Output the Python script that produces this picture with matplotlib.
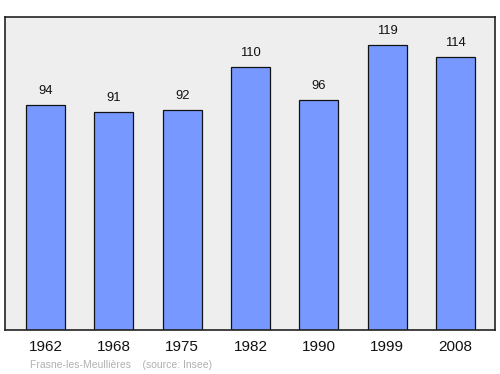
import matplotlib
matplotlib.use("Agg")
import matplotlib.pyplot as plt
from matplotlib import font_manager as fm

years = ["1962", "1968", "1975", "1982", "1990", "1999", "2008"]
values = [94, 91, 92, 110, 96, 119, 114]
footer = "Frasne-les-Meullières    (source: Insee)"

path = None
for f in fm.fontManager.ttflist:
    if f.name == 'Liberation Sans' and 'Narrow' not in f.fname and f.weight in (400, 'normal') and f.style == 'normal':
        path = f.fname
        break

def P(size):
    if path:
        return fm.FontProperties(fname=path, size=size)
    return fm.FontProperties(family='DejaVu Sans', size=size)

fig = plt.figure(figsize=(5, 3.74), dpi=100)
ax = fig.add_axes([5/500, 1-330/374, 490/500, 313/374])
ax.set_facecolor('#eeeeee')
ax.set_xlim(-0.593, 6.58)
ax.set_ylim(0, 130.7)

x = list(range(len(years)))
ax.bar(x, values, width=0.571, color='#7799ff', edgecolor='#111111', linewidth=0.9, zorder=2)
for xi, v in zip(x, values):
    ax.annotate(str(v), (xi, v), xytext=(0, 5.5), textcoords='offset points',
                ha='center', va='bottom', fontproperties=P(9.4), color='#111111')

ax.set_xticks(x)
ax.set_xticklabels(years, fontproperties=P(11), color='#111111')
ax.tick_params(axis='x', length=0, pad=7.5)
ax.set_yticks([])
for s in ax.spines.values():
    s.set_color('#222222')
    s.set_linewidth(1.2)

fig.text(30/500, 1-365/374, footer, fontproperties=P(7.5), color='#b0b0b0', ha='left', va='center')

fig.savefig("out.png", dpi=100)
